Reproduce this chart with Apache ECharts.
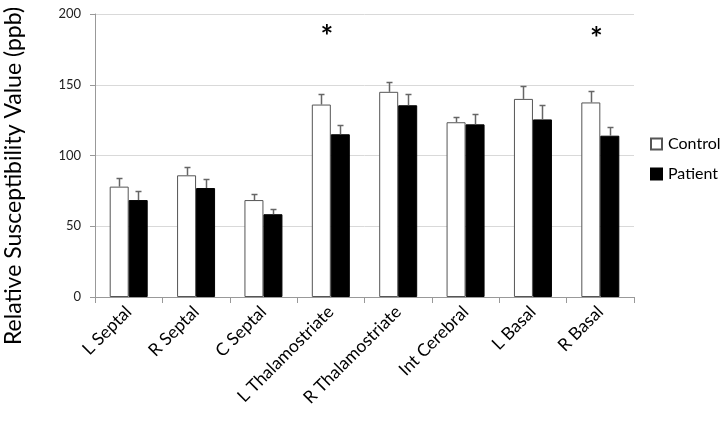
<!DOCTYPE html>
<html>
<head>
<meta charset="utf-8">
<script src="https://cdn.jsdelivr.net/npm/echarts@6/dist/echarts.min.js"></script>
<style>
  html, body { margin: 0; padding: 0; background: #fff; }
  #chart { width: 724px; height: 427px; }
</style>
</head>
<body>
<div id="chart"></div>
<script>
// regions along the x axis
const regions = ['L Septal', 'R Septal', 'C Septal', 'L Thalamostriate', 'R Thalamostriate', 'Int Cerebral', 'L Basal', 'R Basal'];
const yTicks = [0, 50, 100, 150, 200];

// means and upper error (mean + SE)
const control = [78, 86, 68.5, 136, 145, 123.5, 140, 137.5];
const controlErr = [84, 92, 73, 143.5, 152, 127.5, 149, 145.5];
const patient = [68.5, 77, 58.5, 115, 135.5, 122, 125.5, 114];
const patientErr = [75, 83.5, 62.5, 121.5, 143.5, 129.5, 136, 120];

// significance markers
const starRegions = ['L Thalamostriate', 'R Basal'];
const starY = [188, 186];

const FONT = 'Lato';

const chart = echarts.init(document.getElementById('chart'));

// draws an upward error whisker for one bar of a two-bar group
function errorBar(offsetSign, means, errData) {
  return {
    type: 'custom',
    z: 3,
    renderItem: function (params, api) {
      const i = api.value(0);
      const barW = 19;
      const center = api.coord([i, 0])[0] + offsetSign * barW / 2;
      const base = api.coord([i, api.value(1)]);
      const top = api.coord([i, api.value(2)]);
      const x = Math.round(center) + 0.5;
      const yt = Math.round(top[1]) + 0.5;
      return {
        type: 'group',
        children: [
          { type: 'line', shape: { x1: x, y1: base[1], x2: x, y2: yt }, style: { stroke: '#666', lineWidth: 1.5 } },
          { type: 'line', shape: { x1: x - 3, y1: yt, x2: x + 3, y2: yt }, style: { stroke: '#666', lineWidth: 1.5 } }
        ]
      };
    },
    data: errData.map(function (e, i) { return [i, means[i], e]; }),
    encode: { x: 0, y: [1, 2] },
    silent: true
  };
}

const option = {
  animation: false,
  grid: { left: 95, right: 90, top: 14, bottom: 130 },
  legend: {
    orient: 'vertical',
    left: 645,
    top: 131,
    icon: 'rect',
    itemWidth: 11,
    itemHeight: 11,
    itemGap: 14,
    data: ['Control', 'Patient'],
    textStyle: { fontFamily: FONT, fontSize: 16, color: '#000', padding: [0, 0, 0, 1] }
  },
  graphic: [{
    type: 'text',
    x: 14,
    y: 176,
    rotation: Math.PI / 2,
    style: {
      text: 'Relative Susceptibility Value (ppb)',
      font: '23px ' + FONT,
      fill: '#000',
      align: 'center',
      verticalAlign: 'middle'
    }
  }],
  xAxis: {
    type: 'category',
    data: regions,
    axisLine: { lineStyle: { color: '#999' } },
    axisTick: { show: true, length: 6, lineStyle: { color: '#999' } },
    axisLabel: { rotate: 45, interval: 0, fontFamily: FONT, fontSize: 17.5, color: '#000', margin: 12 }
  },
  yAxis: {
    type: 'value',
    min: 0,
    max: 200,
    interval: 50,
    axisLine: { show: true, lineStyle: { color: '#999' } },
    axisTick: { show: true, length: 5, lineStyle: { color: '#999' } },
    axisLabel: {
      fontFamily: FONT, fontSize: 13, color: '#222', margin: 14,
      formatter: function (v) { return yTicks.indexOf(v) >= 0 ? String(v) : ''; }
    },
    splitLine: { lineStyle: { color: '#d9d9d9' } }
  },
  series: [
    {
      name: 'Control',
      type: 'bar',
      barWidth: 19,
      barGap: '0%',
      data: control,
      itemStyle: { color: '#fff', borderColor: '#555', borderWidth: 1 },
      z: 2
    },
    {
      name: 'Patient',
      type: 'bar',
      barWidth: 19,
      barGap: '0%',
      data: patient,
      itemStyle: { color: '#000', borderColor: '#000', borderWidth: 1 },
      z: 2
    },
    errorBar(-1, control, controlErr),
    errorBar(1, patient, patientErr),
    {
      type: 'custom',
      z: 4,
      renderItem: function (params, api) {
        const p = api.coord([api.value(0), api.value(1)]);
        return {
          type: 'text',
          x: p[0] - 4,
          y: p[1] + 6,
          style: { text: '*', font: 'bold 30px ' + FONT, fill: '#000', align: 'center', verticalAlign: 'middle' }
        };
      },
      data: starRegions.map(function (r, k) { return [regions.indexOf(r), starY[k]]; }),
      encode: { x: 0, y: 1 },
      silent: true
    }
  ]
};

chart.setOption(option);
</script>
</body>
</html>
